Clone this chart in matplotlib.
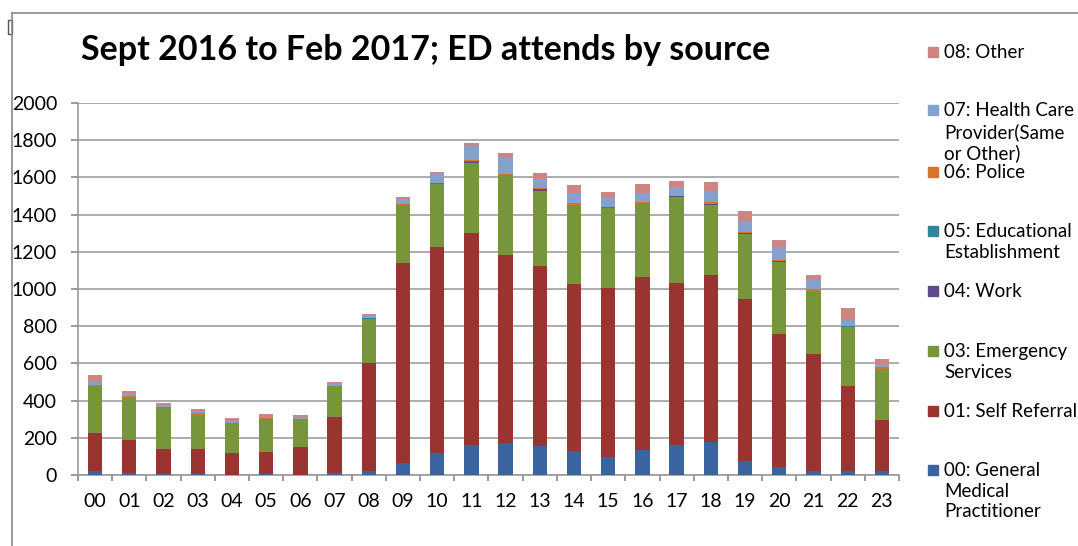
import matplotlib.pyplot as plt
import numpy as np
from matplotlib.patches import Rectangle
from matplotlib.lines import Line2D

plt.rcParams['font.family'] = ['Lato', 'DejaVu Sans']

hours = ['%02d' % h for h in range(24)]

gp = [20, 9, 6, 6, 2, 6, 1, 9, 23, 63, 117, 160, 172, 154, 131, 97, 136, 161, 177, 74, 43, 23, 23, 23]
self_ref = [204, 177, 134, 134, 115, 119, 148, 303, 579, 1079, 1109, 1139, 1011, 970, 894, 910, 927, 873, 898, 872, 717, 628, 455, 274]
emerg = [256, 228, 224, 183, 161, 174, 152, 168, 237, 308, 339, 380, 428, 405, 425, 427, 398, 459, 377, 351, 385, 340, 319, 273]
work = [0, 0, 0, 0, 2, 0, 0, 0, 0, 0, 0, 4, 0, 8, 0, 0, 0, 6, 5, 5, 6, 0, 0, 0]
edu = [0, 0, 0, 0, 0, 0, 0, 0, 6, 0, 7, 3, 0, 0, 4, 7, 0, 0, 0, 0, 0, 0, 6, 0]
police = [3, 12, 2, 12, 0, 8, 0, 0, 0, 5, 0, 9, 9, 6, 10, 0, 5, 3, 10, 6, 7, 7, 0, 11]
hcp = [17, 13, 9, 2, 10, 3, 13, 13, 15, 29, 50, 76, 91, 50, 50, 54, 50, 44, 60, 59, 68, 50, 36, 10]
other = [38, 11, 12, 20, 15, 20, 9, 7, 6, 9, 5, 12, 18, 30, 45, 27, 49, 33, 50, 52, 36, 27, 61, 34]

series = [gp, self_ref, emerg, work, edu, police, hcp, other]
labels = ['00: General\nMedical\nPractitioner', '01: Self Referral', '03: Emergency\nServices', '04: Work',
          '05: Educational\nEstablishment', '06: Police', '07: Health Care\nProvider(Same\nor Other)', '08: Other']
colors = ['#3A64A0', '#9A3431', '#77963A', '#5F4B8B', '#31849B', '#D9732B', '#87A1CD', '#CD8584']

fig = plt.figure(figsize=(10.78, 5.46), dpi=100)
ax = fig.add_axes([78/1078, 1-475/546, (899-78)/1078, (475-103)/546])

x = np.arange(24)
bottom = np.zeros(24)
for vals, c in zip(series, colors):
    ax.bar(x, vals, 0.42, bottom=bottom, color=c, zorder=3)
    bottom += np.array(vals)

ax.set_ylim(0, 2000)
ax.set_xlim(-0.5, 23.5)
ax.set_yticks(np.arange(0, 2001, 200))
ax.yaxis.grid(True, color='#a6a6a6', lw=1.3, zorder=0)
ax.set_xticks(x)
ax.set_xticklabels(hours)
ax.set_xticks(np.arange(-0.5, 24, 1), minor=True)
ax.tick_params(axis='x', which='major', length=0, pad=13, labelsize=14)
ax.tick_params(axis='x', which='minor', length=4.5, color='#888888', width=1.2)
ax.tick_params(axis='y', length=5, color='#888888', width=1.2, labelsize=14, pad=10)
for s in ['top', 'right']:
    ax.spines[s].set_visible(False)
for s in ['left', 'bottom']:
    ax.spines[s].set_color('#999999')
    ax.spines[s].set_linewidth(1.2)

fig.text(426/1078, 1-50/546, 'Sept 2016 to Feb 2017; ED attends by source',
         fontsize=24.5, fontweight='bold', ha='center', va='center')

# legend drawn by hand, top entry first
ys = [52, 110, 172, 231, 291, 351, 411, 470]
for i, (lab, c) in enumerate(zip(labels[::-1], colors[::-1])):
    yy = ys[i]
    fig.patches.append(Rectangle((928/1078, 1-(yy+5)/546), 10/1078, 10/546,
                                 transform=fig.transFigure, color=c))
    fig.text(944/1078, 1-(yy-8)/546, lab, fontsize=13.5, ha='left', va='top', linespacing=1.26)

# outer frame of the pasted chart
fig.lines.append(Line2D([12/1078, 1], [1-13/546, 1-13/546], transform=fig.transFigure, color='#888888', lw=1.2))
fig.lines.append(Line2D([12/1078, 12/1078], [0, 1-13/546], transform=fig.transFigure, color='#888888', lw=1.2))
fig.patches.append(Rectangle((8/1078, 1-34/546), 4/1078, 14/546, transform=fig.transFigure,
                             fill=False, ec='#555555', lw=1))

fig.savefig('out.png', dpi=100)
